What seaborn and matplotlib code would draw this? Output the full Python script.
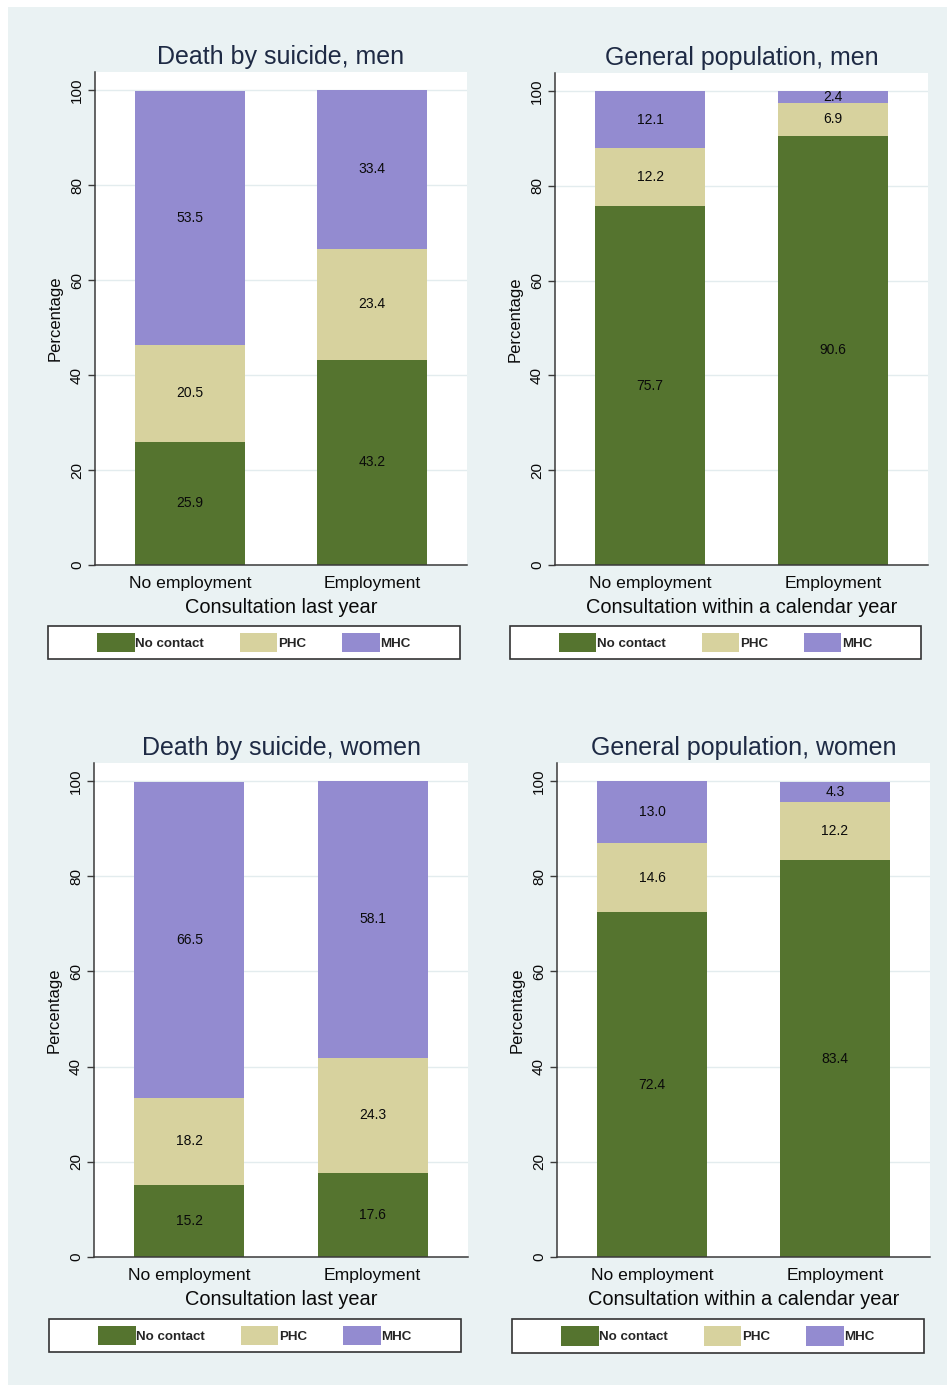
import numpy as np
import pandas as pd
import seaborn as sns
from matplotlib import pyplot as plt
from matplotlib.patches import Patch, Rectangle

# ---- data (percentages) ----
categories = ["No employment", "Employment"]
segments = ["No contact", "PHC", "MHC"]

suicide_men_nc = [25.9, 43.2]
suicide_men_phc = [20.5, 23.4]
suicide_men_mhc = [53.5, 33.4]

genpop_men_nc = [75.7, 90.6]
genpop_men_phc = [12.2, 6.9]
genpop_men_mhc = [12.1, 2.4]

suicide_women_nc = [15.2, 17.6]
suicide_women_phc = [18.2, 24.3]
suicide_women_mhc = [66.5, 58.1]

genpop_women_nc = [72.4, 83.4]
genpop_women_phc = [14.6, 12.2]
genpop_women_mhc = [13.0, 4.3]

titles = ["Death by suicide, men", "General population, men",
          "Death by suicide, women", "General population, women"]
xlabels = ["Consultation last year", "Consultation within a calendar year",
           "Consultation last year", "Consultation within a calendar year"]
yticks = [0, 20, 40, 60, 80, 100]

# ---- style ----
BG = "#EAF2F3"
COLORS = {"No contact": "#55742F", "PHC": "#D7D29E", "MHC": "#938BD0"}
TITLE_COLOR = "#1E2A44"

sns.set_style("white")
plt.rcParams["font.family"] = ["Liberation Sans", "DejaVu Sans"]

W, H = 947, 1385
fig = plt.figure(figsize=(W / 100, H / 100), dpi=100, facecolor="white")
fig.add_artist(Rectangle((8 / W, 0), 1, 1 - 7 / H, transform=fig.transFigure,
                         facecolor=BG, edgecolor="none", zorder=-10))


def px_rect(left, top, right, bottom):
    return [left / W, 1 - bottom / H, (right - left) / W, (bottom - top) / H]


# axes boxes in pixels: left, top, right, bottom
axes_px = [(95, 72, 467, 565), (555, 73, 928, 565),
           (94, 763, 468, 1257), (557, 763, 930, 1257)]
legend_px = [(48, 626, 460, 659), (510, 626, 921, 659),
             (49, 1319, 461, 1352), (512, 1319, 924, 1353)]

panels = [
    (suicide_men_nc, suicide_men_phc, suicide_men_mhc),
    (genpop_men_nc, genpop_men_phc, genpop_men_mhc),
    (suicide_women_nc, suicide_women_phc, suicide_women_mhc),
    (genpop_women_nc, genpop_women_phc, genpop_women_mhc),
]

for i, (nc, phc, mhc) in enumerate(panels):
    ax = fig.add_axes(px_rect(*axes_px[i]))
    ax.set_facecolor("white")

    df = pd.DataFrame({"category": categories, "No contact": nc, "PHC": phc, "MHC": mhc})
    cum = df[segments].cumsum(axis=1)

    # stacked bars drawn as overlapping cumulative bars, tallest first
    for seg in reversed(segments):
        sns.barplot(data=cum.assign(category=df["category"]), x="category", y=seg,
                    color=COLORS[seg], saturation=1, width=0.6, linewidth=0,
                    ax=ax, zorder=2)

    # value labels in the middle of each segment
    bottoms = cum[segments].shift(1, axis=1).fillna(0)
    for j in range(len(categories)):
        for seg in segments:
            v = df.loc[j, seg]
            ax.text(j, bottoms.loc[j, seg] + v / 2, f"{v:.1f}", ha="center", va="center",
                    fontsize=10, color="#0A0A0A", zorder=3)

    ax.set_xlim(-0.52, 1.52)
    ax.set_ylim(0, 103.8)
    ax.set_yticks(yticks)
    ax.yaxis.grid(True, color="#E3ECEE", linewidth=1, zorder=0)
    ax.set_axisbelow(True)

    for s in ["top", "right"]:
        ax.spines[s].set_visible(False)
    for s in ["left", "bottom"]:
        ax.spines[s].set_color("#3A3A3A")
        ax.spines[s].set_linewidth(1.1)

    ax.tick_params(axis="x", length=0, pad=8, labelsize=12.6, colors="#0A0A0A")
    ax.tick_params(axis="y", length=5, width=1, pad=3, labelsize=11, colors="#3A3A3A",
                   labelcolor="#0A0A0A", labelrotation=90, left=True)
    for lab in ax.get_yticklabels():
        lab.set_va("center")

    ax.set_xlabel(xlabels[i], fontsize=14.4, color="#0A0A0A", labelpad=5)
    ax.set_ylabel("Percentage", fontsize=12, color="#0A0A0A", labelpad=5)
    ax.set_title(titles[i], fontsize=18, color=TITLE_COLOR, pad=5.5)

    # legend box
    l, t, r, b = legend_px[i]
    fig.add_artist(Rectangle((l / W, 1 - b / H), (r - l) / W, (b - t) / H,
                             transform=fig.transFigure, facecolor="white",
                             edgecolor="#333333", linewidth=1.2, zorder=1))
    handles = [Patch(facecolor=COLORS[s], edgecolor="none") for s in segments]
    leg = fig.legend(handles, segments, loc="center", ncol=3, frameon=False,
                     bbox_to_anchor=((l + r) / 2 / W, 1 - (t + b) / 2 / H),
                     prop={"size": 9.6, "weight": "bold"},
                     handlelength=2.8, handleheight=1.9, handletextpad=0.05,
                     columnspacing=2.7, borderaxespad=0)
    leg.set_zorder(2)

fig.savefig("out.png", dpi=100, facecolor=fig.get_facecolor())
